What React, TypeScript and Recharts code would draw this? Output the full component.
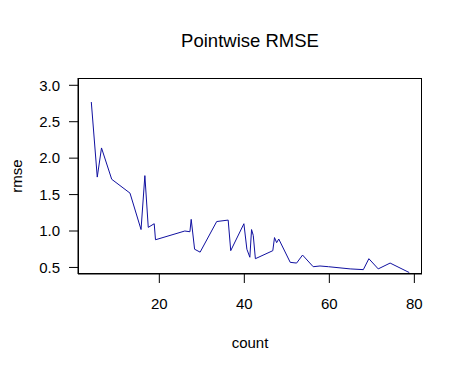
import React from "react";
import { LineChart, Line, XAxis, YAxis } from "recharts";

const counts = [
  4, 5.4, 6.4, 8.8, 13.1, 15.7, 16.6, 17.4, 18.8, 19.1, 26, 27.2, 27.5, 28.3,
  29.6, 33.5, 36.2, 36.8, 39.9, 40.6, 41.3, 41.7, 42.1, 42.6, 46.7, 47.1, 47.6,
  48.1, 50.8, 52.3, 53.7, 56.2, 57.8, 59.8, 64.9, 68, 69.3, 71.5, 74.3, 78.8,
];
const rmse = [
  2.77, 1.74, 2.14, 1.71, 1.52, 1.02, 1.76, 1.05, 1.1, 0.88, 1.0, 0.99, 1.16,
  0.75, 0.71, 1.13, 1.15, 0.73, 1.1, 0.75, 0.64, 1.02, 0.94, 0.62, 0.73, 0.91,
  0.84, 0.89, 0.57, 0.56, 0.67, 0.51, 0.52, 0.51, 0.48, 0.47, 0.62, 0.48, 0.56,
  0.43,
];
const xTicks = [20, 40, 60, 80];
const yTicks = [0.5, 1.0, 1.5, 2.0, 2.5, 3.0];

const data = counts.map((c, i) => ({ count: c, rmse: rmse[i] }));

const FONT = "'Liberation Sans', Arial, sans-serif";
const tickStyle = { fill: "#000", fontSize: 15, fontFamily: FONT };

export default function App() {
  return (
    <div style={{ position: "absolute", left: 0, top: 0, width: 463, height: 372, background: "#fff" }}>
      <LineChart
        width={463}
        height={372}
        data={data}
        margin={{ top: 78, right: 41, bottom: 0, left: 0 }}
      >
        <XAxis
          dataKey="count"
          type="number"
          domain={[0.87, 81.8]}
          ticks={xTicks}
          height={98}
          tick={tickStyle}
          tickSize={9}
          tickMargin={15}
          stroke="#000"
          allowDataOverflow
          label={{
            content: ({ viewBox }: any) => (
              <text
                x={viewBox.x + viewBox.width / 2}
                y={viewBox.y + 74}
                textAnchor="middle"
                fontSize={15}
                fontFamily={FONT}
                fill="#000"
              >
                count
              </text>
            ),
          }}
        />
        <YAxis
          dataKey="rmse"
          type="number"
          domain={[0.41, 3.1]}
          ticks={yTicks}
          width={78}
          tick={tickStyle}
          tickSize={9}
          tickMargin={9}
          tickFormatter={(v: number) => v.toFixed(1)}
          stroke="#000"
          allowDataOverflow
          label={{
            content: ({ viewBox }: any) => {
              const cx = 22;
              const cy = viewBox.y + viewBox.height / 2;
              return (
                <text
                  x={cx}
                  y={cy}
                  transform={`rotate(-90, ${cx}, ${cy})`}
                  textAnchor="middle"
                  fontSize={15}
                  fontFamily={FONT}
                  fill="#000"
                >
                  rmse
                </text>
              );
            },
          }}
        />
        <Line
          type="linear"
          dataKey="rmse"
          stroke="#1010A0"
          strokeWidth={1}
          dot={false}
          isAnimationActive={false}
        />
      </LineChart>
      {/* plot box + title */}
      <svg
        width={463}
        height={372}
        style={{ position: "absolute", left: 0, top: 0, pointerEvents: "none" }}
      >
        <rect x={78.5} y={78.5} width={343} height={195} fill="none" stroke="#000" />
        <text
          x={250}
          y={47}
          textAnchor="middle"
          fontSize={18.5}
          fontFamily={FONT}
          fill="#000"
        >
          Pointwise RMSE
        </text>
      </svg>
    </div>
  );
}
